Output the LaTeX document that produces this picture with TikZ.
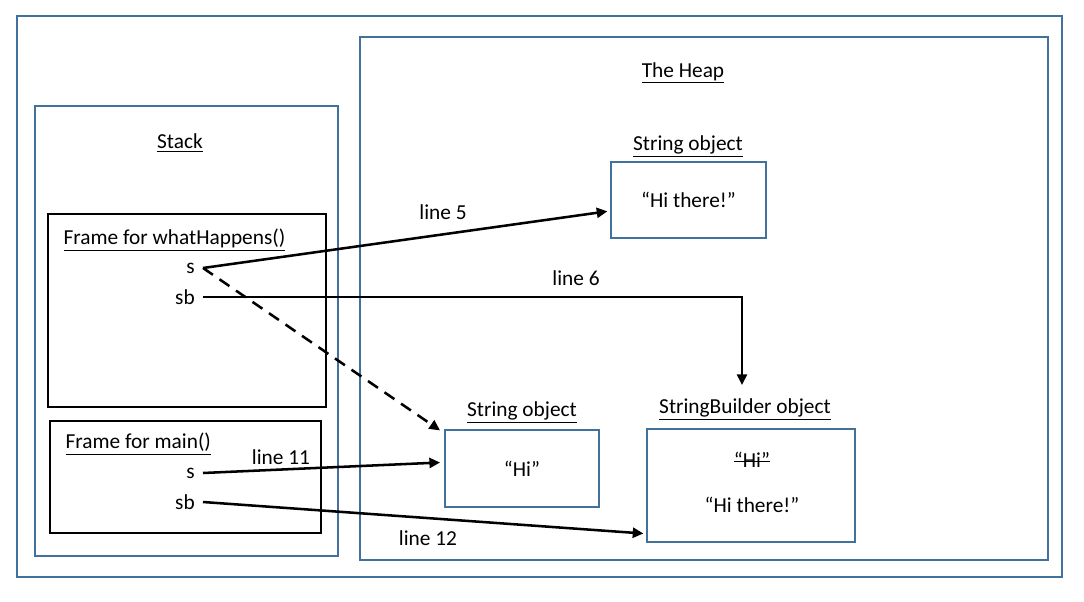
\documentclass[tikz,border=0pt]{standalone}
\usepackage{fontspec}
\setmainfont{Carlito}
\usetikzlibrary{arrows.meta}
\definecolor{frameblue}{RGB}{65,113,156}
\newcommand{\strk}[1]{\setbox0\hbox{#1}\rlap{\raisebox{0.6ex}{\rule{\wd0}{0.6pt}}}#1}

\begin{document}
\begin{tikzpicture}[x=0.75pt,y=-0.75pt,font=\fontsize{16pt}{19pt}\selectfont,
  frame/.style={draw=frameblue,line width=1.4pt},
  stackframe/.style={draw=black,line width=1.5pt},
  objbox/.style={draw=frameblue,line width=1.4pt,inner sep=0pt},
  var/.style={anchor=east,inner xsep=6pt,inner ysep=1pt},
  lab/.style={inner sep=1pt},
  ref/.style={line width=1.9pt,-{Triangle[length=8pt,width=7.5pt]}}]
\useasboundingbox (0,0) rectangle (1084,602);
% memory areas
\draw[frame] (17,16) rectangle (1062,577);
\draw[frame] (360,37) rectangle (1048,560);
\draw[frame] (35,106) rectangle (338,556);
\node[lab] (heap) at (683,73) {\underline{The Heap}};
\node[lab] (stack) at (180,143) {\underline{Stack}};
% stack frames
\draw[stackframe] (48,214) rectangle (326,407);
\node[lab,anchor=west] (fwh) at (62,240) {\underline{Frame for whatHappens()}};
\node[var] (s1) at (203,268) {s};
\node[var] (sb1) at (203,297) {sb};
\draw[stackframe] (50,421) rectangle (321,533);
\node[lab,anchor=west] (fmain) at (64,444) {\underline{Frame for main()}};
\node[var] (s2) at (203,473) {s};
\node[var] (sb2) at (203,502) {sb};
% heap objects
\node[lab] (strlab1) at (688,146) {\underline{String object}};
\node[objbox,minimum width=116.25pt,minimum height=57pt] (str1) at (688.5,200) {“Hi there!”};
\node[lab] (strlab2) at (522,412) {\underline{String object}};
\node[objbox,minimum width=115.5pt,minimum height=57.75pt] (str2) at (522,468.5) {“Hi”};
\node[lab] (sblab) at (745,409) {\underline{StringBuilder object}};
\node[objbox,minimum width=156pt,minimum height=84.75pt] (sbobj) at (751,485.5) {};
\node[lab] (sbold) at (752,460) {\strk{“Hi”}};
\node[lab] (sbnew) at (752,505) {“Hi there!”};
\coordinate (l6end) at (742,385);
% references
\draw[ref] (s1.east) -- ([xshift=-2pt,yshift=-8.5pt]str1.west);
\draw[ref,dashed,dash pattern=on 9pt off 6pt] (s1.east) -- ([xshift=-3pt,yshift=-1pt]str2.north west);
\draw[ref] (sb1.east) -| (l6end);
\draw[ref] (s2.east) -- ([xshift=-3pt,yshift=4.5pt]str2.west);
\draw[ref] (sb2.east) -- ([xshift=-2pt,yshift=-36pt]sbobj.west);
\node[lab] (l5) at (443,212) {line 5};
\node[lab] (l6) at (576,278) {line 6};
\node[lab] (l11) at (281,457) {line 11};
\node[lab] (l12) at (428,538) {line 12};
\end{tikzpicture}
\end{document}
